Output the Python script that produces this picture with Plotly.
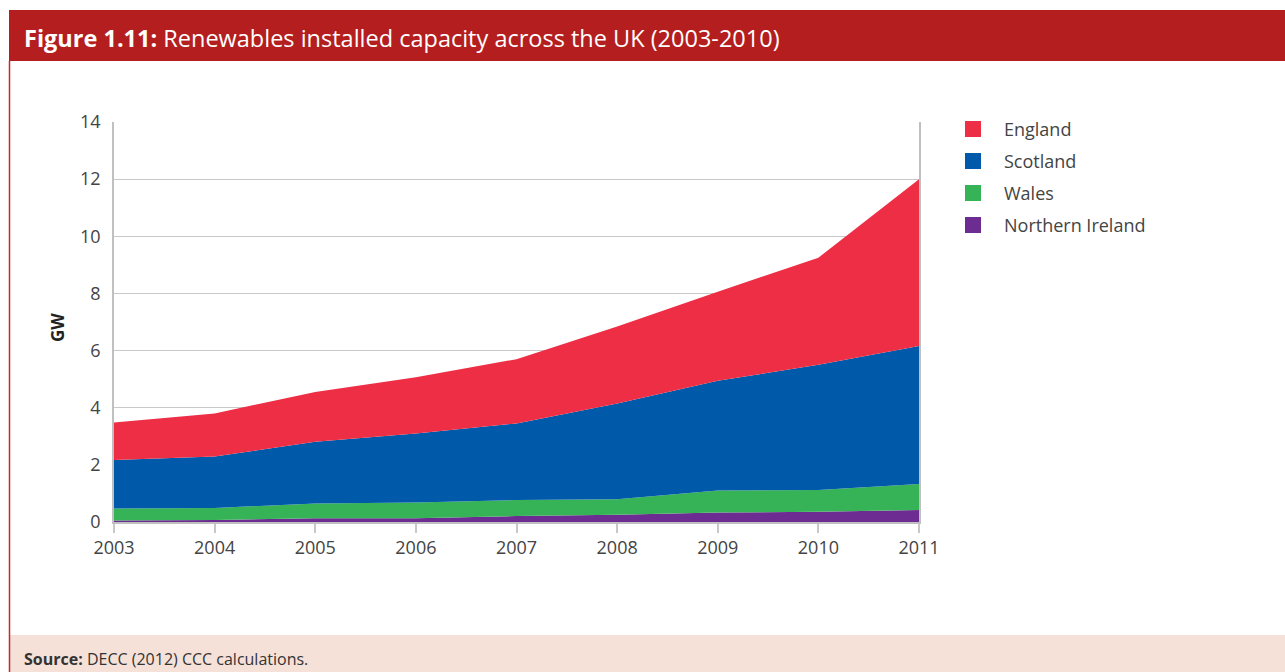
import plotly.graph_objects as go

years = [2003, 2004, 2005, 2006, 2007, 2008, 2009, 2010, 2011]
northern_ireland = [0.05, 0.07, 0.13, 0.13, 0.21, 0.25, 0.33, 0.36, 0.42]
wales = [0.42, 0.42, 0.52, 0.55, 0.56, 0.55, 0.77, 0.76, 0.91]
scotland = [1.70, 1.80, 2.16, 2.42, 2.68, 3.35, 3.84, 4.38, 4.83]
england = [1.31, 1.51, 1.74, 1.97, 2.25, 2.69, 3.12, 3.75, 5.84]

series_names = ["Northern Ireland", "Wales", "Scotland", "England"]
series_values = [northern_ireland, wales, scotland, england]
series_colors = ["#6D2C91", "#36B257", "#0059A9", "#EE2E45"]

W, H = 1285, 672
L, R, T, B = 114, 366, 122, 150
PW, PH = W - L - R, H - T - B
FONT = "Open Sans"


def px(x):
    return (x - L) / PW


def py(y):
    return (H - B - y) / PH


fig = go.Figure()
for name, vals, col in zip(series_names, series_values, series_colors):
    fig.add_trace(go.Scatter(
        x=years, y=vals, name=name, mode="lines", stackgroup="one",
        line=dict(width=0, color=col), fillcolor=col, showlegend=False,
        hoverinfo="x+y+name"))

shapes = []
annotations = []
# title bar
shapes.append(dict(type="rect", xref="paper", yref="paper", x0=px(9), x1=px(W + 2),
                   y0=py(61), y1=py(10), fillcolor="#B41E1E", line=dict(width=0), layer="below"))
# footer
shapes.append(dict(type="rect", xref="paper", yref="paper", x0=px(9), x1=px(W + 2),
                   y0=py(H + 2), y1=py(635), fillcolor="#F6E1D9", line=dict(width=0), layer="below"))
# left red border
shapes.append(dict(type="line", xref="paper", yref="paper", x0=px(9.5), x1=px(9.5),
                   y0=py(61), y1=py(H + 2), line=dict(color="#C8282A", width=1.5)))

annotations.append(dict(xref="paper", yref="paper", x=px(22), y=py(38), xanchor="left", yanchor="middle",
                        text="<b>Figure 1.11:</b> Renewables installed capacity across the UK (2003-2010)",
                        showarrow=False, font=dict(family=FONT, size=23.5, color="white")))
annotations.append(dict(xref="paper", yref="paper", x=px(22), y=py(659), xanchor="left", yanchor="middle",
                        text="<b>Source:</b> DECC (2012) CCC calculations.",
                        showarrow=False, font=dict(family=FONT, size=16, color="#333333")))
annotations.append(dict(xref="paper", yref="paper", x=px(57), y=py(328), xanchor="center", yanchor="middle",
                        text="<b>GW</b>", textangle=-90,
                        showarrow=False, font=dict(family=FONT, size=17, color="#222222")))

# legend (England first)
legend_order = list(zip(series_names, series_colors))[::-1]
for i, (name, col) in enumerate(legend_order):
    cy = 129 + 32 * i
    shapes.append(dict(type="rect", xref="paper", yref="paper", x0=px(965), x1=px(981),
                       y0=py(cy + 8), y1=py(cy - 8), fillcolor=col, line=dict(width=0)))
    annotations.append(dict(xref="paper", yref="paper", x=px(1002), y=py(cy), xanchor="left",
                            yanchor="middle", text=name, showarrow=False,
                            font=dict(family=FONT, size=18, color="#444444")))

fig.update_layout(
    width=W, height=H, autosize=False,
    margin=dict(l=L, r=R, t=T, b=B),
    paper_bgcolor="white", plot_bgcolor="white",
    shapes=shapes, annotations=annotations,
    showlegend=False,
    xaxis=dict(range=[2003, 2011], tickmode="array", tickvals=years, ticktext=[str(y) for y in years],
               showgrid=False, zeroline=False, showline=True, linecolor="#C0C0C0", linewidth=1.5,
               ticks="outside", ticklen=9, tickcolor="#C8C8C8", tickwidth=1.5,
               tickfont=dict(family=FONT, size=18, color="#444444")),
    yaxis=dict(range=[0, 14], tickmode="array", tickvals=[0, 2, 4, 6, 8, 10, 12, 14],
               showgrid=True, gridcolor="#C8C8C8", gridwidth=1.2, zeroline=False,
               showline=True, linecolor="#C0C0C0", linewidth=1.5, mirror=True,
               ticks="", ticklabelstandoff=8,
               tickfont=dict(family=FONT, size=18, color="#444444")),
)

fig.write_html("out.html")
